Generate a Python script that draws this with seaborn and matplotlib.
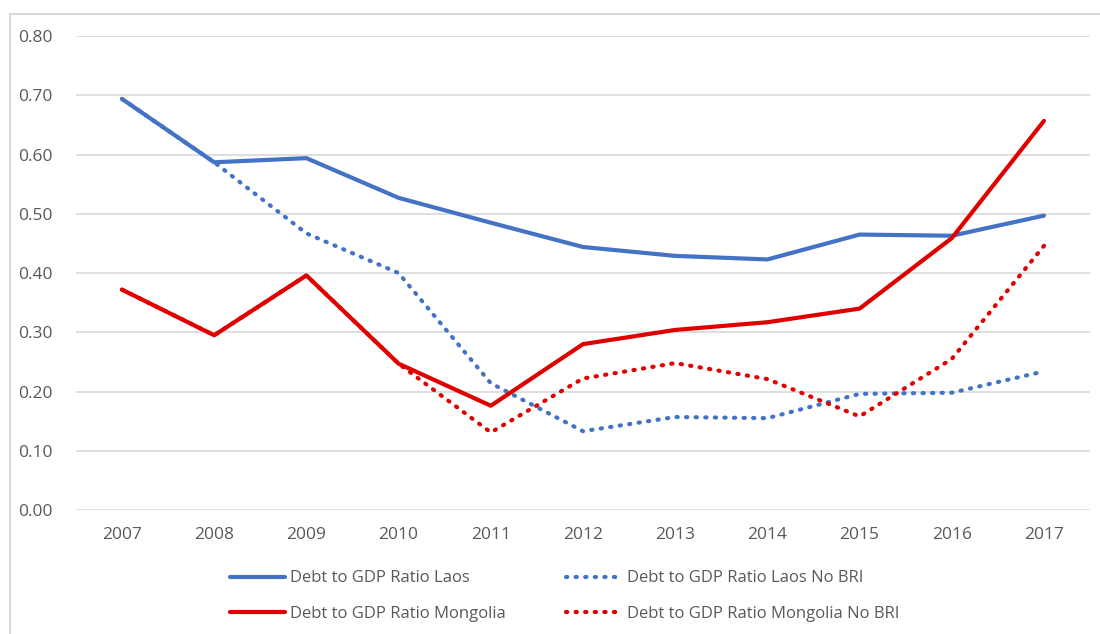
import numpy as np
import pandas as pd
import matplotlib
matplotlib.use("Agg")
import matplotlib.pyplot as plt
import seaborn as sns

# data
years = ['2007', '2008', '2009', '2010', '2011', '2012', '2013', '2014', '2015', '2016', '2017']
laos = [0.694, 0.587, 0.594, 0.527, 0.485, 0.444, 0.429, 0.423, 0.465, 0.463, 0.497]
laos_no_bri = [0.694, 0.587, 0.467, 0.400, 0.214, 0.133, 0.157, 0.155, 0.196, 0.198, 0.234]
mongolia = [0.372, 0.295, 0.396, 0.247, 0.176, 0.280, 0.304, 0.317, 0.340, 0.459, 0.657]
mongolia_no_bri = [0.372, 0.295, 0.396, 0.247, 0.131, 0.222, 0.248, 0.221, 0.158, 0.255, 0.446]

BLUE = '#4472C4'
RED = '#E00000'
GREY = '#595959'

sns.set_style("white")
plt.rcParams['font.family'] = ['Open Sans', 'DejaVu Sans']

fig = plt.figure(figsize=(11, 6.34), dpi=100)
ax = fig.add_axes([0.069, 0.1956, 0.922, 0.7474])

x = np.arange(len(years))
series = [
    ('Debt to GDP Ratio Laos No BRI', laos_no_bri, BLUE, 'dot'),
    ('Debt to GDP Ratio Mongolia No BRI', mongolia_no_bri, RED, 'dot'),
    ('Debt to GDP Ratio Laos', laos, BLUE, 'solid'),
    ('Debt to GDP Ratio Mongolia', mongolia, RED, 'solid'),
]
handles = {}
for name, vals, col, style in series:
    if style == 'dot':
        sns.lineplot(x=x, y=vals, ax=ax, color=col, linewidth=3.0,
                     linestyle=(0, (0.3, 2.0)), dash_capstyle='round')
    else:
        sns.lineplot(x=x, y=vals, ax=ax, color=col, linewidth=3.0,
                     solid_capstyle='round')
    handles[name] = ax.lines[-1]

ax.set_xlim(-0.5, len(years) - 0.5)
ax.set_ylim(0, 0.8)
ax.set_yticks(np.arange(0, 0.81, 0.1))
ax.set_yticklabels([f'{v:.2f}' for v in np.arange(0, 0.81, 0.1)])
ax.set_xticks(x)
ax.set_xticklabels(years)
ax.tick_params(axis='both', length=0, labelsize=12.5, labelcolor=GREY)
ax.tick_params(axis='y', pad=17)
ax.tick_params(axis='x', pad=12)
ax.grid(axis='y', color='#D9D9D9', linewidth=1.2)
ax.set_axisbelow(True)
for s in ax.spines.values():
    s.set_visible(False)

order = ['Debt to GDP Ratio Laos', 'Debt to GDP Ratio Mongolia',
         'Debt to GDP Ratio Laos No BRI', 'Debt to GDP Ratio Mongolia No BRI']
leg = fig.legend([handles[k] for k in order], order, ncol=2,
                 loc='upper left', bbox_to_anchor=(0.195, 0.124),
                 frameon=False, fontsize=12, handlelength=3.3,
                 columnspacing=3.6, labelspacing=1.15, handletextpad=0.35)
for t in leg.get_texts():
    t.set_color(GREY)

# light outer chart border (top and left only, as in the reference)
fig.add_artist(plt.Line2D([10 / 1100, 1], [1 - 14 / 634, 1 - 14 / 634],
                          transform=fig.transFigure, color='#D9D9D9', linewidth=1.5))
fig.add_artist(plt.Line2D([10 / 1100, 10 / 1100], [0, 1 - 14 / 634],
                          transform=fig.transFigure, color='#D9D9D9', linewidth=1.5))

fig.savefig('out.png', dpi=100)
